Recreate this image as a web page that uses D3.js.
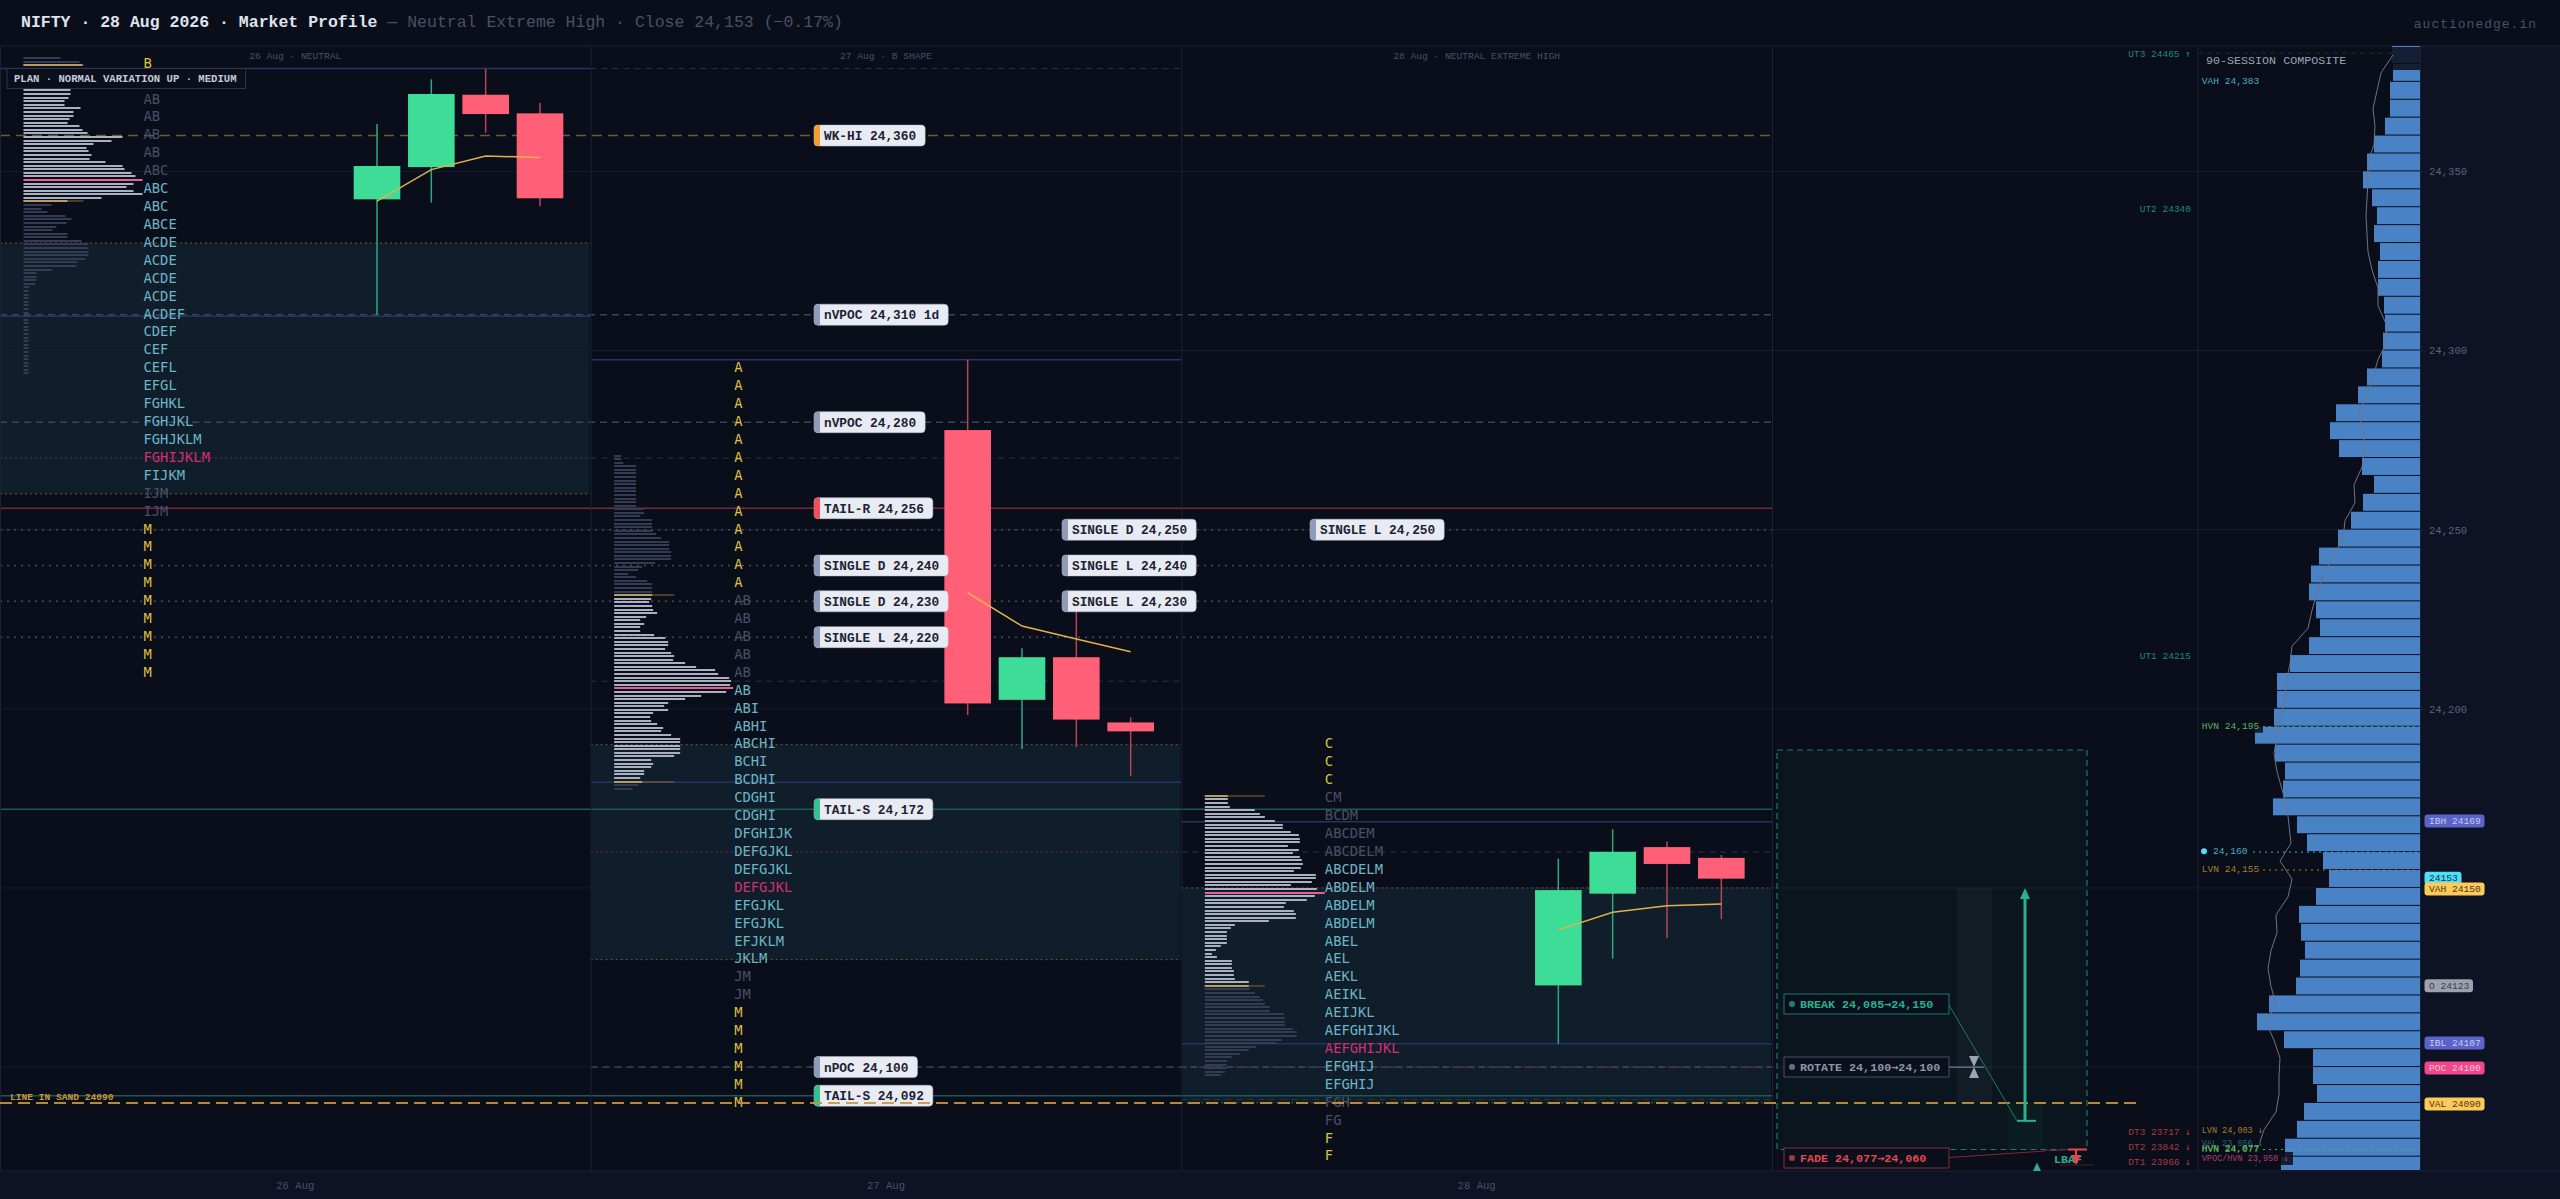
<!DOCTYPE html>
<html>
<head>
<meta charset="utf-8">
<title>NIFTY Market Profile</title>
<script src="https://cdn.jsdelivr.net/npm/d3@7"></script>
<style>
html, body { margin: 0; padding: 0; background: #0a0e1a; }
svg { display: block; }
text { font-family: "Liberation Mono", monospace; }
</style>
</head>
<body>
<svg id="chart" width="2560" height="1199"></svg>
<script>
// sessions
var sessionDates  = ["26 Aug", "27 Aug", "28 Aug"];
var sessionTitles = ["26 Aug · NEUTRAL", "27 Aug · B SHAPE", "28 Aug · NEUTRAL EXTREME HIGH"];

// half hour candles per session: open, high, low, close
var candles26 = [[24342.2, 24363.2, 24309.9, 24351.5], [24351.2, 24375.7, 24341.3, 24371.6], [24371.4, 24378.6, 24360.8, 24366], [24366.2, 24369.1, 24340.3, 24342.5]];
var candles27 = [[24277.8, 24297.4, 24198.3, 24201.5], [24202.5, 24216.9, 24188.8, 24214.4], [24214.4, 24232, 24189.3, 24197], [24196.2, 24197.6, 24181.3, 24193.7]];
var candles28 = [[24122.8, 24158.2, 24106.5, 24149.4], [24148.4, 24166.4, 24130.3, 24160.1], [24161.4, 24163, 24136, 24156.7], [24158.4, 24159.2, 24141.3, 24152.6]];

var vwap26 = [24341.7, 24350.5, 24354.3, 24353.9];
var vwap27 = [24232.4, 24223.1, 24219.5, 24215.9];
var vwap28 = [24138.3, 24143.2, 24145, 24145.5];

// TPO letters, 5 point rows
var tpoTop = [24380, 24295, 24190];
var tpo26 = ["B","AB","AB","AB","AB","AB","ABC","ABC","ABC","ABCE","ACDE","ACDE","ACDE","ACDE","ACDEF","CDEF","CEF","CEFL","EFGL","FGHKL","FGHJKL","FGHJKLM","FGHIJKLM","FIJKM","IJM","IJM","M","M","M","M","M","M","M","M","M"];
var tpo27 = ["A","A","A","A","A","A","A","A","A","A","A","A","A","AB","AB","AB","AB","AB","AB","ABI","ABHI","ABCHI","BCHI","BCDHI","CDGHI","CDGHI","DFGHIJK","DEFGJKL","DEFGJKL","DEFGJKL","EFGJKL","EFGJKL","EFJKLM","JKLM","JM","JM","M","M","M","M","M","M"];
var tpo28 = ["C","C","C","CM","BCDM","ABCDEM","ABCDELM","ABCDELM","ABDELM","ABDELM","ABDELM","ABEL","AEL","AEKL","AEIKL","AEIJKL","AEFGHIJKL","AEFGHIJKL","EFGHIJ","EFGHIJ","FGH","FG","F","F"];
var tpoValueFirst = [7, 18, 7];
var tpoValueLast  = [23, 33, 19];
var tpoPocRow     = [22, 29, 17];

// value area bands: high, low
var valueHigh = [24330, 24190, 24150];
var valueLow  = [24260, 24130, 24090];

// volume profile, 1 point rows
var profileTop = [24381.6, 24270.7, 24175.7];
var profile26 = [37,56,59,47,47,47,47,45,47,47,47,45,41,41,57,50,50,46,44,56,59,64,99,88,70,63,65,68,66,82,99,101,108,112,119,110,103,110,119,78,44,28,18,24,42,48,43,33,29,44,44,58,65,65,65,65,62,54,53,29,13,13,13,12,6,5,5,5,5,5,5,5,5,5,5,5,5,5,5,5,5,5,5,5,5,5,5,5,5];
var profile27 = [7,7,9,22,22,22,22,22,22,22,22,22,22,22,22,29,30,26,38,38,38,38,42,47,55,55,55,57,57,57,41,28,24,14,22,33,38,38,38,38,37,35,38,39,43,32,26,30,26,26,40,51,54,54,51,57,60,59,71,82,101,104,115,117,116,119,112,87,71,54,50,54,39,36,37,43,49,47,57,66,66,66,66,66,60,37,39,37,30,30,26,28,24,18];
var profile28 = [23,23,23,25,50,55,60,70,78,78,86,94,95,95,83,94,88,95,97,98,96,89,111,111,107,86,112,120,110,102,81,79,89,91,91,64,30,26,22,22,22,22,16,11,7,12,27,27,27,29,29,30,44,44,45,50,55,58,60,65,65,79,80,80,80,88,92,92,77,72,51,44,35,27,22,22,22,20,16];
var profileVaFirst = [2, 39, 0];
var profileVaLast  = [40, 91, 53];
var profilePoc     = [34, 65, 27];

// levels that run across sessions
var levelPrices = [24360, 24310, 24280, 24256, 24250, 24240, 24230, 24220, 24172, 24092, 24100];
var levelKinds  = ["week", "naked", "naked", "tailUp", "single", "single", "single", "single", "tailDown", "tailDown", "naked"];
var levelFrom   = [0, 0, 0, 0, 0, 0, 0, 0, 0, 0, 1];

// per session references
var ibHigh = [24378.7, 24297.4, 24168.5];
var ibLow  = [24309.6, 24179.5, 24106.5];
var tpoPocPrice = [24270, 24160, 24100];
var carriedPrices = [24378.7, 24270, 24207.7, 24160, 24091];
var carriedFrom   = [1, 1, 1, 2, 2];

// tags on the levels
var tagTexts  = ["WK-HI 24,360", "nVPOC 24,310 1d", "nVPOC 24,280", "TAIL-R 24,256", "SINGLE D 24,240", "SINGLE D 24,230", "SINGLE L 24,220", "SINGLE D 24,250", "SINGLE L 24,240", "SINGLE L 24,230", "SINGLE L 24,250", "TAIL-S 24,172", "nPOC 24,100", "TAIL-S 24,092"];
var tagPrices = [24360, 24310, 24280, 24256, 24240, 24230, 24220, 24250, 24240, 24230, 24250, 24172, 24100, 24092];
var tagKinds  = ["week", "grey", "grey", "up", "grey", "grey", "grey", "grey", "grey", "grey", "grey", "down", "grey", "down"];
var tagColumn = [0, 0, 0, 0, 0, 0, 0, 1, 1, 1, 2, 0, 0, 0];

var sandPrice = 24090;
var sandText  = "LINE IN SAND 24090";
var planText  = "PLAN · NORMAL VARIATION UP · MEDIUM";

// scenarios
var scenarioTexts = ["BREAK 24,085→24,150", "ROTATE 24,100→24,100", "FADE 24,077→24,060"];
var scenarioFrom  = [24085, 24100, 24077];
var scenarioTo    = [24150, 24100, 24060];
var scenarioBoxHigh = 24188.5;
var scenarioBoxLow  = 24077;

var upTargets   = ["UT3 24465 ↑", "UT2 24340", "UT1 24215"];
var upPrices    = [24383, 24340, 24215];
var downTargets = ["DT3 23717 ↓", "DT2 23842 ↓", "DT1 23966 ↓"];

// 90 session composite, 5 point bins from the top
var compTop = 24385;
var compVolume = [28,27,30,30,35,46,53,57,48,43,46,40,42,42,36,35,37,38,53,62,84,90,81,58,46,57,69,82,101,109,111,104,100,111,130,143,143,146,165,145,135,137,147,123,113,97,91,104,121,119,115,120,124,151,163,136,107,107,103,116,123,135,139];
var compTpo = [27,39,43,47,45,46,52,52,53,54,53,52,48,42,42,34,33,42,47,53,62,57,55,58,66,65,75,77,87,97,103,108,112,128,130,134,135,140,143,146,143,138,133,131,129,140,128,132,144,143,149,152,149,144,154,146,140,141,141,144,156,162,164];

var axisTicks = [24350, 24300, 24250, 24200, 24150, 24100];
var axisTagTexts  = ["IBH 24169", "24153", "VAH 24150", "O 24123", "IBL 24107", "POC 24100", "VAL 24090"];
var axisTagPrices = [24169, 24153, 24150, 24123, 24107, 24100, 24090];
var axisTagKinds  = ["ib", "last", "value", "open", "ib", "poc", "value"];

var compNodeTexts  = ["HVN 24,195", "24,160", "LVN 24,155", "HVN 24,077"];
var compNodePrices = [24195, 24160, 24155, 24077];
var compNodeKinds  = ["hvn", "price", "lvn", "hvn"];

// layout
var width = 2560, height = 1199,
    plotTop = 46, plotBottom = 1171,
    panelLeft = 1772, compLeft = 2198, axisX = 2420;

var colors = {
    bg: "#0a0e1a", panel: "#0d1224", rule: "#1b2236", grid: "#161d30",
    green: "#3ddc97", red: "#ff6078", greenWick: "#2fa87c", redWick: "#b8445a",
    amber: "#c9963c", teal: "#2ab08e", muted: "#4a5068", bar: "#4a82c6"
};

var svg = d3.select("#chart");

var y = d3.scaleLinear().domain([24385, 24071]).range([plotTop, plotBottom]);
var sessionX = d3.scaleLinear().domain([0, 3]).range([0, panelLeft]);
var candleX = d3.scalePoint().domain([0, 1, 2, 3]).range([377, 540]);
var compX = d3.scaleLinear().domain([0, 165]).range([axisX, axisX - 165]);

function addText(g, x, yy, str, size, fill, anchor, weight) {
    var t = g.append("text")
        .attr("x", x)
        .attr("y", yy)
        .attr("dy", "0.35em")
        .attr("font-size", size)
        .attr("fill", fill)
        .attr("text-anchor", anchor || "start")
        .attr("font-weight", weight || 400);
    // Liberation Mono arrows are tiny, take those from DejaVu
    str.split(/([↑↓→])/).forEach(function(part) {
        if (!part) return;
        var span = t.append("tspan").text(part);
        if (/[↑↓→]/.test(part)) span.style("font-family", "'DejaVu Sans Mono', monospace");
    });
    return t;
}

function hLine(g, x1, x2, price, stroke, w, dash) {
    return g.append("line")
        .attr("x1", x1).attr("x2", x2)
        .attr("y1", y(price)).attr("y2", y(price))
        .attr("stroke", stroke)
        .attr("stroke-width", w)
        .attr("stroke-dasharray", dash || null);
}

// panels
svg.append("rect").attr("width", width).attr("height", height).attr("fill", colors.bg);
svg.append("rect").attr("x", axisX).attr("y", plotTop).attr("width", width - axisX).attr("height", plotBottom - plotTop).attr("fill", colors.panel);
svg.append("rect").attr("y", plotBottom).attr("width", width).attr("height", height - plotBottom).attr("fill", colors.panel);

var plot = svg.append("g");

// value area bands
d3.range(3).forEach(function(i) {
    plot.append("rect")
        .attr("x", sessionX(i) + 1)
        .attr("width", sessionX(1) - 2)
        .attr("y", y(valueHigh[i]))
        .attr("height", y(valueLow[i]) - y(valueHigh[i]))
        .attr("fill", "#101d2a");
});

// grid
axisTicks.forEach(function(p) {
    hLine(plot, 0, axisX, p, colors.grid, 1);
});

// session references
d3.range(3).forEach(function(i) {
    var x1 = sessionX(i), x2 = sessionX(i + 1);
    hLine(plot, x1, x2, ibHigh[i], "#2a3163", 1.5);
    hLine(plot, x1, x2, ibLow[i], "#2a3163", 1.5);
    hLine(plot, x1, x2, valueHigh[i], "#6a5a32", 1, "2,3");
    hLine(plot, x1, x2, valueLow[i], "#6a5a32", 1, "2,3");
    if (i < 2) hLine(plot, x1, x2, tpoPocPrice[i], "#7a2a50", 1, "2,3");
    else hLine(plot, x1, x2, tpoPocPrice[i], "#6a3a58", 1, "6,3");
});
carriedPrices.forEach(function(p, i) {
    hLine(plot, sessionX(carriedFrom[i]), sessionX(carriedFrom[i] + 1), p, "#2c3346", 1, "6,5");
});

// levels across the sessions
var levelStyle = {
    week:     ["#6e5a34", 1.5, "10,6"],
    naked:    ["#3b4358", 1.5, "7,5"],
    tailUp:   ["#7a2838", 1.5, null],
    tailDown: ["#1d5a50", 1.5, null],
    single:   ["#454c60", 1.5, "2,5"]
};
levelPrices.forEach(function(p, i) {
    var s = levelStyle[levelKinds[i]];
    hLine(plot, sessionX(levelFrom[i]), panelLeft, p, s[0], s[1], s[2]);
});

// session dividers
d3.range(0, 4).forEach(function(i) {
    plot.append("line")
        .attr("x1", sessionX(i) + 0.5).attr("x2", sessionX(i) + 0.5)
        .attr("y1", plotTop).attr("y2", plotBottom)
        .attr("stroke", colors.rule).attr("stroke-width", 1);
});
plot.append("line").attr("x1", compLeft).attr("x2", compLeft).attr("y1", plotTop).attr("y2", plotBottom).attr("stroke", colors.rule);
plot.append("line").attr("x1", 0).attr("x2", width).attr("y1", plotTop).attr("y2", plotTop).attr("stroke", colors.rule);
plot.append("line").attr("x1", 0).attr("x2", width).attr("y1", plotBottom).attr("y2", plotBottom).attr("stroke", colors.rule);

// volume profiles
[profile26, profile27, profile28].forEach(function(rows, i) {
    var left = sessionX(i) + 23.5;
    plot.append("g").selectAll("rect").data(rows).join("rect")
        .attr("x", left)
        .attr("y", function(d, j) { return Math.round(y(profileTop[i] - j)) - 1; })
        .attr("width", function(d) { return d; })
        .attr("height", 2)
        .attr("fill", function(d, j) {
            if (j === profilePoc[i]) return "#e8608e";
            if (j === profileVaFirst[i] || j === profileVaLast[i]) return "#e6cf90";
            return (j >= profileVaFirst[i] && j <= profileVaLast[i]) ? "#aab0bf" : "#333c52";
        });
    [profileVaFirst[i], profileVaLast[i]].forEach(function(j) {
        plot.append("line")
            .attr("x1", left).attr("x2", left + 60)
            .attr("y1", Math.round(y(profileTop[i] - j))).attr("y2", Math.round(y(profileTop[i] - j)))
            .attr("stroke", "#8a6a30").attr("stroke-width", 1);
    });
});

// TPO letters
[tpo26, tpo27, tpo28].forEach(function(rows, i) {
    rows.forEach(function(str, j) {
        var fill = "#4a4e68";
        if (str.length === 1) fill = "#dcc13e";
        else if (j === tpoPocRow[i]) fill = "#d22f6e";
        else if (j >= tpoValueFirst[i] && j <= tpoValueLast[i]) fill = "#6bb6c6";
        addText(plot, sessionX(i) + 143.5, y(tpoTop[i] - j * 5) - 1, str, 13.8, fill)
            .style("font-family", "'DejaVu Sans Mono', monospace");
    });
});

// candles
[candles26, candles27, candles28].forEach(function(rows, i) {
    var g = plot.append("g").attr("transform", "translate(" + sessionX(i) + ",0)");
    rows.forEach(function(c, j) {
        var up = c[3] >= c[0], cx = candleX(j);
        g.append("line")
            .attr("x1", cx).attr("x2", cx)
            .attr("y1", y(c[1])).attr("y2", y(c[2]))
            .attr("stroke", up ? colors.greenWick : colors.redWick)
            .attr("stroke-width", 1.5);
        g.append("rect")
            .attr("x", cx - 23.3).attr("width", 46.6)
            .attr("y", y(Math.max(c[0], c[3])))
            .attr("height", Math.abs(y(c[0]) - y(c[3])))
            .attr("fill", up ? colors.green : colors.red);
    });
});

// session vwap lines
[vwap26, vwap27, vwap28].forEach(function(rows, i) {
    plot.append("path")
        .attr("transform", "translate(" + sessionX(i) + ",0)")
        .attr("d", d3.line().x(function(d, j) { return candleX(j); }).y(function(d) { return y(d); })(rows))
        .attr("fill", "none")
        .attr("stroke", "#e0b24a")
        .attr("stroke-width", 1.5);
});

// session titles
sessionTitles.forEach(function(t, i) {
    addText(plot, (sessionX(i) + sessionX(i + 1)) / 2, 55.5, t, 9.6, colors.muted, "middle");
});

// level tags
var tagColumnX = [814, 1062, 1310];
var tagBar = { week: "#f0a030", grey: "#8f9bb8", up: "#f0505c", down: "#34c08f" };
tagTexts.forEach(function(t, i) {
    var g = plot.append("g").attr("transform", "translate(" + tagColumnX[tagColumn[i]] + "," + (y(tagPrices[i]) - 10.5) + ")");
    var w = t.length * 7.68 + 19;
    g.append("rect").attr("width", w).attr("height", 21).attr("rx", 4).attr("fill", "#e9ebf3").attr("stroke", "#b9bfd0").attr("stroke-width", 0.5);
    g.append("path").attr("d", "M6,0H4Q0,0,0,4V17Q0,21,4,21H6Z").attr("fill", tagBar[tagKinds[i]]);
    addText(g, 10, 10.5, t, 12.8, "#1c2233", "start", 700);
});

// line in sand goes over the tags
hLine(plot, 0, 2137, sandPrice, "#c9963c", 2, "12,6").attr("opacity", 0.9);
addText(plot, 10, y(24092) + 0.5, sandText, 9.6, colors.amber, "start", 700);

// plan box
var plan = plot.append("g");
plan.append("rect").attr("x", 7).attr("y", 68.5).attr("width", 238.5).attr("height", 20)
    .attr("fill", "#0b0f1c").attr("stroke", "#2d3348");
addText(plan, 14, 78, planText, 10.6, "#c4cbdc", "start", 700);

// scenario box
var scen = plot.append("g");
scen.append("rect").attr("x", 1777).attr("width", 310)
    .attr("y", y(scenarioBoxHigh)).attr("height", y(scenarioBoxLow) - y(scenarioBoxHigh))
    .attr("fill", "#3ddc97").attr("fill-opacity", 0.035)
    .attr("stroke", "#1f7a66").attr("stroke-width", 1.2).attr("stroke-dasharray", "6,4");
scen.append("rect").attr("x", 1957).attr("width", 35)
    .attr("y", y(24150)).attr("height", y(24090) - y(24150))
    .attr("fill", "#ffffff").attr("fill-opacity", 0.03);
scen.append("rect").attr("x", 2008).attr("width", 35)
    .attr("y", y(24090)).attr("height", y(scenarioBoxLow) - y(24090))
    .attr("fill", "#3ddc97").attr("fill-opacity", 0.04);

// break arrow
var breakX = 2025;
scen.append("line").attr("x1", 1949).attr("y1", 1005).attr("x2", breakX - 8).attr("y2", y(scenarioFrom[0]))
    .attr("stroke", "#1f7a66").attr("stroke-width", 1);
scen.append("line").attr("x1", breakX).attr("x2", breakX).attr("y1", y(scenarioFrom[0])).attr("y2", y(scenarioTo[0]) + 8)
    .attr("stroke", colors.teal).attr("stroke-width", 3);
scen.append("line").attr("x1", breakX - 8).attr("x2", breakX + 11).attr("y1", y(scenarioFrom[0])).attr("y2", y(scenarioFrom[0]))
    .attr("stroke", colors.teal).attr("stroke-width", 2);
scen.append("path").attr("fill", colors.teal)
    .attr("d", "M" + breakX + "," + y(scenarioTo[0]) + "l5,11h-10z");

// rotate marker
var rotX = 1974;
scen.append("line").attr("x1", 1949).attr("x2", rotX + 10).attr("y1", y(scenarioFrom[1])).attr("y2", y(scenarioFrom[1]))
    .attr("stroke", "#8e95a8").attr("stroke-width", 1);
scen.append("path").attr("fill", "#9aa3b8")
    .attr("d", "M" + (rotX - 5) + "," + (y(scenarioTo[1]) - 11) + "h10l-5,11l5,11h-10l5,-11z");

// fade marker, target is below the plot so the arrow stops at the edge
var fadeX = 2076, fadeTip = Math.min(y(scenarioTo[2]), plotBottom - 6);
scen.append("line").attr("x1", 1949).attr("y1", 1157.5).attr("x2", 2068).attr("y2", y(scenarioFrom[2]))
    .attr("stroke", "#7a2a35").attr("stroke-width", 1);
scen.append("rect").attr("x", 2045).attr("y", 1151).attr("width", 50).attr("height", 17).attr("fill", "#0a0e1a");
scen.append("line").attr("x1", 2060).attr("x2", 2094).attr("y1", fadeTip).attr("y2", fadeTip)
    .attr("stroke", "#4a1c24").attr("stroke-width", 1);
addText(scen, 2054, 1159, "LBAF", 11.7, colors.teal, "start", 700);
scen.append("line").attr("x1", fadeX).attr("x2", fadeX).attr("y1", y(scenarioFrom[2])).attr("y2", fadeTip - 8)
    .attr("stroke", "#e5474f").attr("stroke-width", 2);
scen.append("line").attr("x1", 2068).attr("x2", 2087).attr("y1", y(scenarioFrom[2])).attr("y2", y(scenarioFrom[2]))
    .attr("stroke", "#e5474f").attr("stroke-width", 2);
scen.append("path").attr("fill", "#e5474f")
    .attr("d", "M" + fadeX + "," + fadeTip + "l-5,-10h10z");
scen.append("path").attr("fill", colors.teal).attr("d", "M2037,1162.5l4,8.5h-8z");

// scenario labels
var scenStroke = ["#1f7a66", "#4a5064", "#8a2d35"];
var scenFill   = [colors.teal, "#8e95a8", "#e5474f"];
var scenBoxY   = [994, 1057, 1148];
scenarioTexts.forEach(function(t, i) {
    var g = scen.append("g").attr("transform", "translate(1784," + scenBoxY[i] + ")");
    g.append("rect").attr("width", 165).attr("height", 20).attr("fill", "#0a0f1c").attr("stroke", scenStroke[i]);
    g.append("circle").attr("cx", 8).attr("cy", 10).attr("r", 3).attr("fill", scenFill[i]).attr("opacity", 0.7);
    addText(g, 16, 9.5, t, 11.7, scenFill[i], "start", 700);
});

// targets
upTargets.forEach(function(t, i) {
    addText(plot, 2191, y(upPrices[i]) + 1, t, 9.5, "#1f8a72", "end");
});
downTargets.forEach(function(t, i) {
    addText(plot, 2191, 1132 + i * 15, t, 9.5, "#a33a42", "end");
});

// composite
var comp = svg.append("g");
comp.selectAll("rect.bin").data(compVolume).join("rect")
    .attr("class", "bin")
    .attr("x", function(d) { return compX(d); })
    .attr("width", function(d) { return axisX - compX(d); })
    .attr("y", function(d, i) { return y(compTop - i * 5); })
    .attr("height", function(d, i) { return Math.min(y(compTop - (i + 1) * 5), plotBottom) - y(compTop - i * 5) - 1; })
    .attr("fill", colors.bar);

comp.append("rect").attr("x", compLeft + 1).attr("y", plotTop + 1).attr("width", axisX - compLeft - 1).attr("height", 23)
    .attr("fill", "#0a0e1a").attr("fill-opacity", 0.85);
hLine(comp, compLeft, 2392, upPrices[0], "#173440", 1, "5,4");

comp.append("path")
    .attr("d", d3.line()
        .x(function(d) { return compX(d); })
        .y(function(d, i) { return y(compTop - 2.5 - i * 5); })(compTpo))
    .attr("fill", "none")
    .attr("stroke", "#6c7488")
    .attr("stroke-width", 1);

addText(comp, 2206, 60, "90-SESSION COMPOSITE", 11.7, "#9aa3b8");
addText(comp, 2201.7, 80.7, "VAH 24,383", 9.6, "#3fb0c4");

// composite nodes
var nodeColor = { hvn: "#5cb060", lvn: "#a87a30", price: "#3fb0c4" };
compNodeTexts.forEach(function(t, i) {
    var c = nodeColor[compNodeKinds[i]], price = compNodePrices[i];
    var isPrice = compNodeKinds[i] === "price";
    hLine(comp, isPrice ? 2253 : 2263, axisX, price, c, 1, "2,4");
    comp.append("rect").attr("x", compLeft + 1).attr("y", y(price) - 7).attr("width", isPrice ? 54 : 64).attr("height", 13).attr("fill", "#0a0e1a").attr("fill-opacity", 0.85);
    if (isPrice) {
        comp.append("circle").attr("cx", 2204).attr("cy", y(price) - 1).attr("r", 3).attr("fill", "#4fe0f8");
        addText(comp, 2213, y(price) - 1, t, 9.6, c);
    } else {
        addText(comp, 2201.7, y(price) - 1, t, 9.6, c);
    }
});
comp.append("rect").attr("x", compLeft + 1).attr("y", 1152).attr("width", 94).attr("height", 13).attr("fill", "#0a0e1a").attr("fill-opacity", 0.85);
addText(comp, 2201.7, 1130, "LVN 24,003 ↓", 8.5, "#a87a30");
addText(comp, 2201.7, 1143, "VAL 23,656 ↓", 8.5, "#1f6a78");
addText(comp, 2201.7, 1148, "HVN 24,077", 9.6, "#5cb060");
addText(comp, 2201.7, 1157.7, "VPOC/HVN 23,950 ↓", 8.5, "#b03a78");

// price axis
var axis = d3.axisRight(y)
    .tickValues(axisTicks)
    .tickSize(6)
    .tickPadding(3)
    .tickFormat(d3.format(","));
var axisG = svg.append("g").attr("transform", "translate(" + axisX + ",0)").call(axis);
axisG.select(".domain").attr("stroke", "#1b2236");
axisG.selectAll(".tick line").attr("stroke", "#1b2236");
axisG.selectAll(".tick text")
    .attr("fill", "#5b627a")
    .attr("font-size", 10.6)
    .attr("font-family", "'Liberation Mono', monospace");

// axis tags
var tagFill = {
    ib:    ["#5a63c8", "#c8ccf0"],
    last:  ["#4fe0f8", "#0d3040"],
    value: ["#fcc95a", "#4a3a10"],
    open:  ["#9ca1ad", "#3a3f4a"],
    poc:   ["#f0468a", "#ffc4da"]
};
axisTagTexts.forEach(function(t, i) {
    var s = tagFill[axisTagKinds[i]];
    var g = svg.append("g").attr("transform", "translate(2424.5," + (y(axisTagPrices[i]) + 1) + ")");
    g.append("rect").attr("y", -6.5).attr("width", t.length * 5.76 + 8.2).attr("height", 13).attr("rx", 3).attr("fill", s[0]);
    addText(g, 4.5, -0.5, t, 9.6, s[1]);
});

// bottom dates
sessionDates.forEach(function(t, i) {
    addText(svg, (sessionX(i) + sessionX(i + 1)) / 2, 1185, t, 10.6, colors.muted, "middle");
});

// header
var title = svg.append("text").attr("x", 21).attr("y", 21).attr("dy", "0.35em").attr("font-size", 16.5);
title.append("tspan").attr("fill", "#dfe3ee").attr("font-weight", 700).text("NIFTY · 28 Aug 2026 · Market Profile");
title.append("tspan").attr("fill", colors.muted).text(" — Neutral Extreme High · Close 24,153 (−0.17%)");
addText(svg, 2537, 23, "auctionedge.in", 13, colors.muted, "end").attr("letter-spacing", 1);
</script>
</body>
</html>
